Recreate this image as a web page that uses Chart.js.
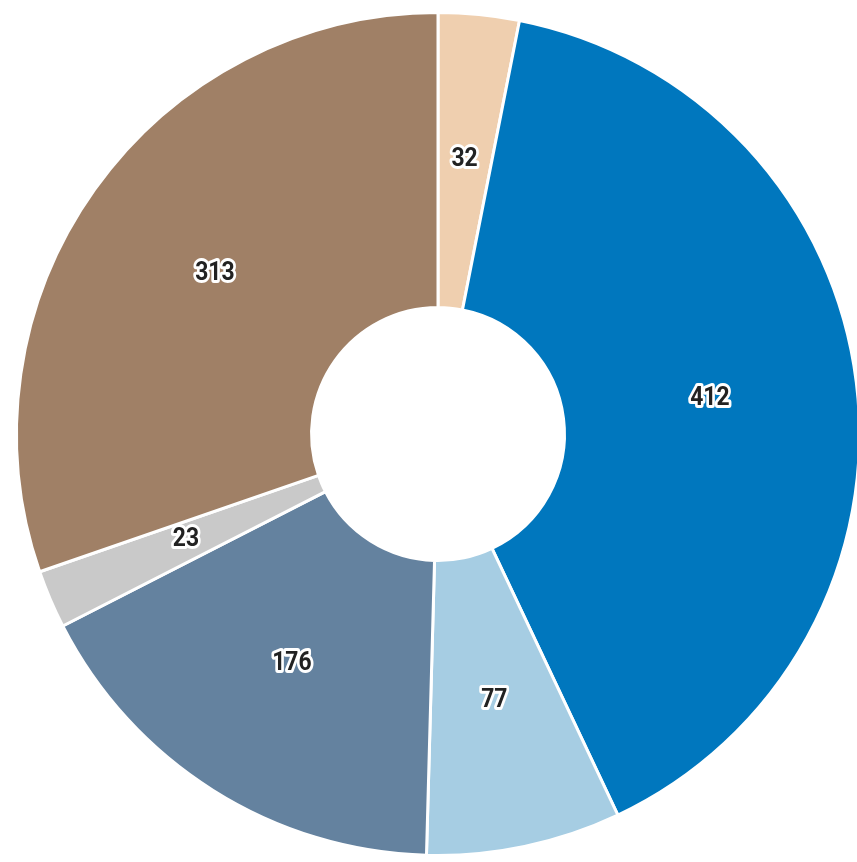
<!DOCTYPE html>
<html>
<head>
<meta charset="utf-8">
<script src="https://cdn.jsdelivr.net/npm/chart.js@4"></script>
<style>
html,body{margin:0;padding:0;background:#fff;overflow:hidden;width:857px;height:862px;}
#wrap{position:absolute;left:0;top:0;width:876px;height:870px;}
</style>
</head>
<body>
<div id="wrap"><canvas id="c"></canvas></div>
<script>
const categories = ["A", "B", "C", "D", "E", "F"];
const values = [32, 412, 77, 176, 23, 313];
const colors = ["#EFCFAF", "#0077BE", "#A6CDE3", "#64829F", "#C9C9C9", "#A08066"];

const labelPlugin = {
  id: 'sliceLabels',
  afterDatasetsDraw(chart) {
    const ctx = chart.ctx;
    const meta = chart.getDatasetMeta(0);
    meta.data.forEach((arc, i) => {
      const p = arc.tooltipPosition();
      const t = String(values[i]);
      ctx.save();
      ctx.translate(p.x, p.y - 2);
      ctx.scale(0.88, 1);
      ctx.font = 'bold 26px Roboto, "Liberation Sans", sans-serif';
      ctx.textAlign = 'center';
      ctx.textBaseline = 'middle';
      ctx.lineJoin = 'round';
      ctx.lineWidth = 6;
      ctx.strokeStyle = '#ffffff';
      ctx.strokeText(t, 0, 0);
      ctx.fillStyle = '#222222';
      ctx.fillText(t, 0, 0);
      ctx.restore();
    });
  }
};

new Chart(document.getElementById('c'), {
  type: 'doughnut',
  data: {
    labels: categories,
    datasets: [{
      data: values,
      backgroundColor: colors,
      borderColor: '#ffffff',
      borderWidth: 3
    }]
  },
  options: {
    responsive: true,
    maintainAspectRatio: false,
    animation: false,
    cutout: '30%',
    layout: { padding: { left: 15, right: 15, top: 11, bottom: 13 } },
    plugins: { legend: { display: false }, tooltip: { enabled: false } }
  },
  plugins: [labelPlugin]
});
</script>
</body>
</html>
